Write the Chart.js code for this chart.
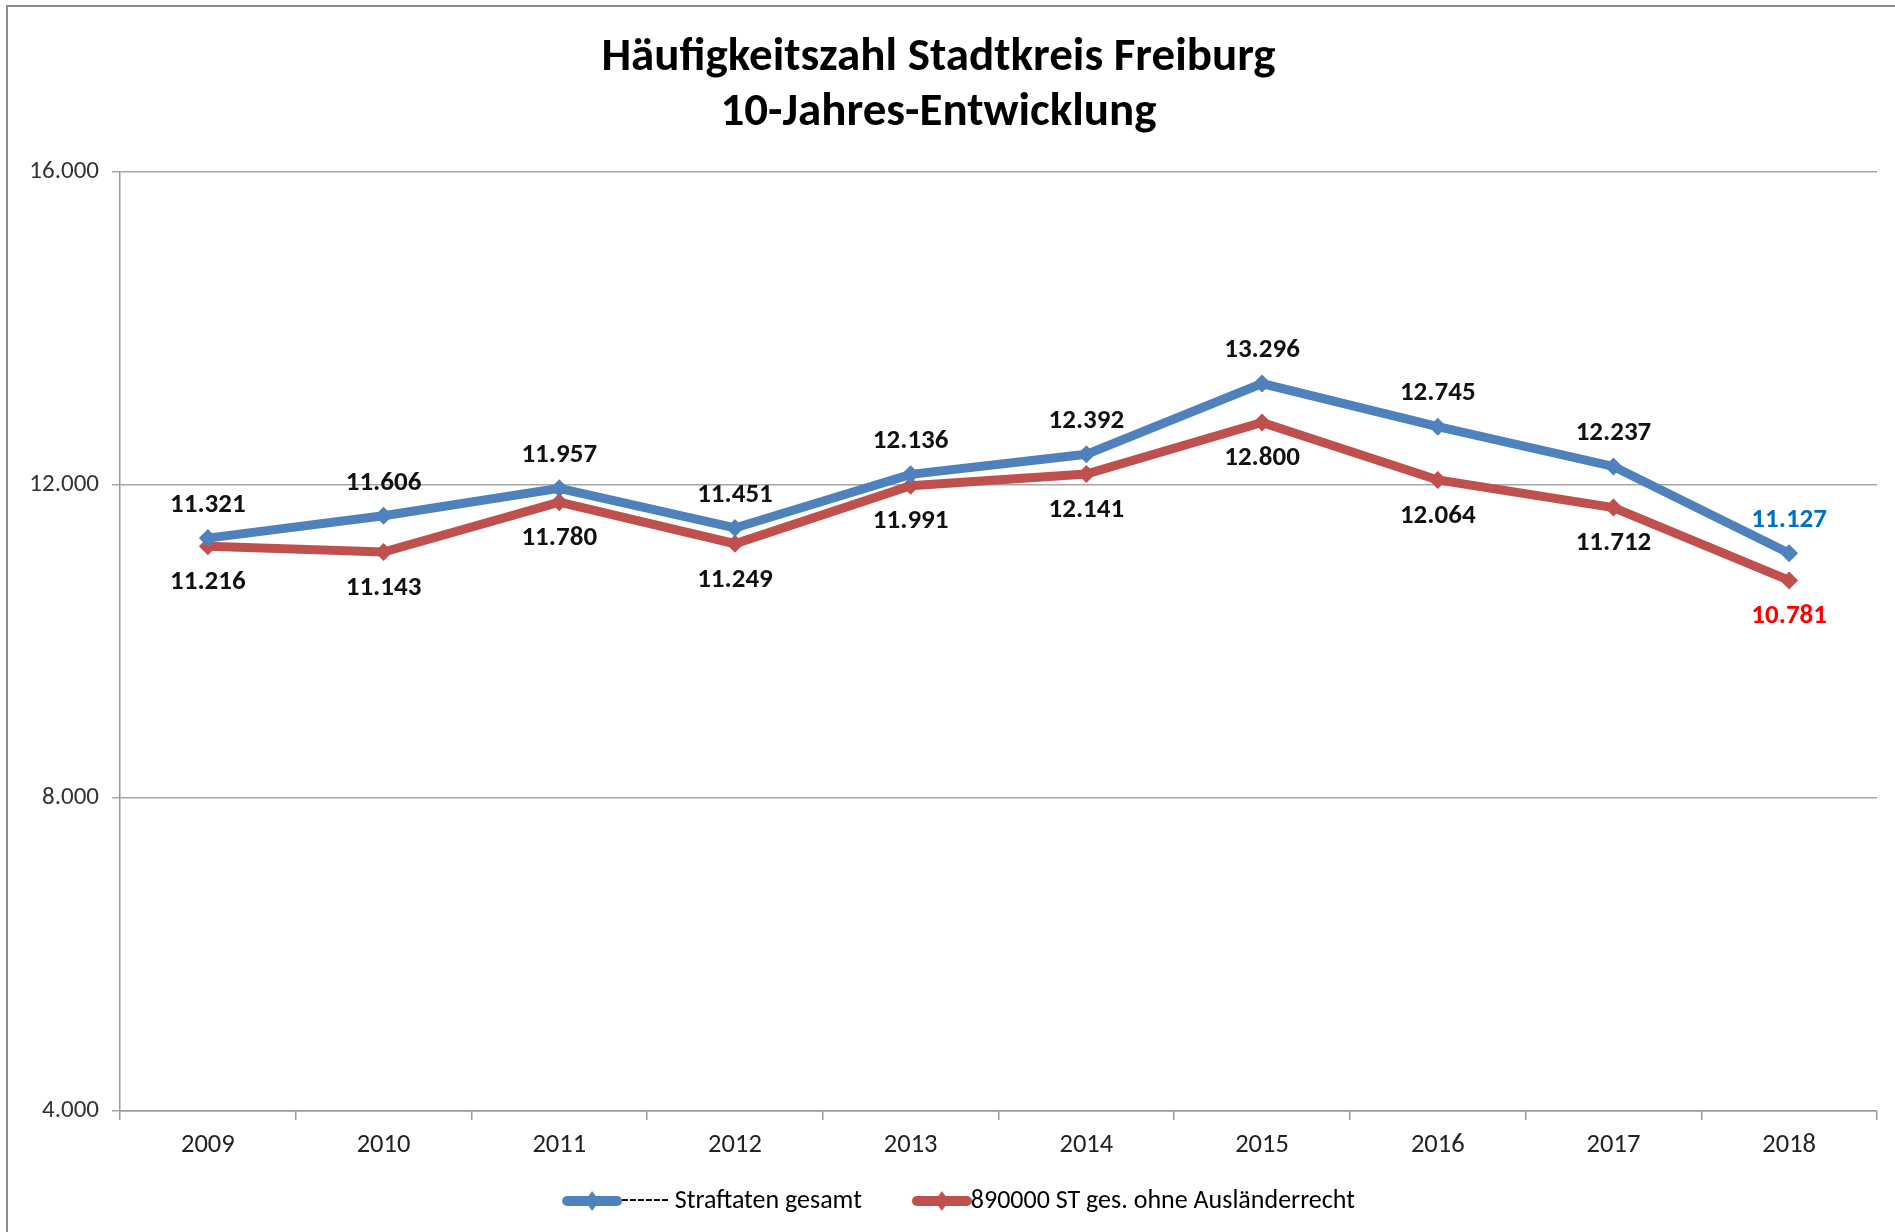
<!DOCTYPE html>
<html>
<head>
<meta charset="utf-8">
<script src="https://cdn.jsdelivr.net/npm/chart.js@4/dist/chart.umd.min.js"></script>
<style>
  body { margin: 0; background: #fff; }
  #wrap { position: relative; width: 1895px; height: 1232px; overflow: hidden; }
  #frame { position: absolute; left: 6px; top: 5px; width: 2000px; height: 2000px;
           border-left: 2px solid #8c8c8c; border-top: 2px solid #8c8c8c; }
  canvas { position: absolute; left: 0; top: 0; }
</style>
</head>
<body>
<div id="wrap">
  <div id="frame"></div>
  <canvas id="chart" width="1895" height="1232"></canvas>
</div>
<script>
// Daten
var years = ["2009","2010","2011","2012","2013","2014","2015","2016","2017","2018"];
var gesamt = [11321, 11606, 11957, 11451, 12136, 12392, 13296, 12745, 12237, 11127];
var ohneAuslR = [11216, 11143, 11780, 11249, 11991, 12141, 12800, 12064, 11712, 10781];
var yTicks = [4000, 8000, 12000, 16000];
var seriesNames = ["------ Straftaten gesamt", "890000 ST ges. ohne Ausländerrecht"];

var BLUE = "#4f81bd";
var RED = "#c0504d";
var FONT = "Carlito, Lato, 'Open Sans', sans-serif";

function fmt(v) {
	return String(v).replace(/\B(?=(\d{3})+(?!\d))/g, ".");
}

// Bild fuer den Legendeneintrag: dicke Linie mit Raute,
// sitzt am rechten Ende der 86px breiten Legendenbox
function legendSymbol(color) {
	var c = document.createElement("canvas");
	c.width = 120; c.height = 26;
	var g = c.getContext("2d");
	g.strokeStyle = color;
	g.lineWidth = 10;
	g.lineCap = "round";
	g.beginPath(); g.moveTo(62, 13); g.lineTo(112, 13); g.stroke();
	g.fillStyle = color;
	g.beginPath(); g.moveTo(87, 3); g.lineTo(94, 13); g.lineTo(87, 23); g.lineTo(80, 13); g.closePath(); g.fill();
	return c;
}
var symbols = [legendSymbol(BLUE), legendSymbol(RED)];

// Datenbeschriftungen (blau oben, rot unten)
var valueLabels = {
	id: "valueLabels",
	afterDatasetsDraw: function(chart) {
		var ctx = chart.ctx;
		ctx.save();
		ctx.font = "bold 27px " + FONT;
		ctx.textAlign = "center";
		ctx.textBaseline = "middle";
		chart.data.datasets.forEach(function(ds, di) {
			var meta = chart.getDatasetMeta(di);
			meta.data.forEach(function(pt, i) {
				var last = i === ds.data.length - 1;
				if (di === 0) {
					ctx.fillStyle = last ? "#0070c0" : "#111";
					ctx.fillText(fmt(ds.data[i]), pt.x, pt.y - 33);
				} else {
					ctx.fillStyle = last ? "#ff0000" : "#111";
					ctx.fillText(fmt(ds.data[i]), pt.x, pt.y + 36);
				}
			});
		});
		ctx.restore();
	}
};

var ctx = document.getElementById("chart").getContext("2d");
var chart = new Chart(ctx, {
	type: "line",
	data: {
		labels: years,
		datasets: [
			{ label: seriesNames[0], data: gesamt, borderColor: BLUE, backgroundColor: BLUE,
			  borderWidth: 9, pointStyle: "rectRot", pointRadius: 9, pointBackgroundColor: BLUE,
			  pointBorderWidth: 0, tension: 0 },
			{ label: seriesNames[1], data: ohneAuslR, borderColor: RED, backgroundColor: RED,
			  borderWidth: 9, pointStyle: "rectRot", pointRadius: 9, pointBackgroundColor: RED,
			  pointBorderWidth: 0, tension: 0 }
		]
	},
	options: {
		responsive: false,
		animation: false,
		layout: { padding: { left: 0, right: 18, top: 0, bottom: 8 } },
		plugins: {
			title: {
				display: true,
				text: ["Häufigkeitszahl Stadtkreis Freiburg", "10-Jahres-Entwicklung"],
				color: "#000",
				font: { family: FONT, size: 47, weight: "bold", lineHeight: 1.17 },
				padding: { top: 31, bottom: 31 }
			},
			legend: {
				position: "bottom",
				labels: {
					usePointStyle: true,
					pointStyleWidth: 86,
					padding: 10,
					color: "#222",
					font: { family: FONT, size: 26 },
					generateLabels: function(ch) {
						return ch.data.datasets.map(function(ds, i) {
							return { text: ds.label, pointStyle: symbols[i], fillStyle: ds.borderColor,
							         strokeStyle: ds.borderColor, lineWidth: 0, datasetIndex: i, hidden: false };
						});
					}
				}
			},
			tooltip: { enabled: false }
		},
		scales: {
			x: {
				offset: true,
				afterFit: function(s) { s.height = 67; },
				grid: { offset: true, drawOnChartArea: false, drawTicks: true, tickLength: 9, color: "#9a9a9a", lineWidth: 1.5 },
				border: { color: "#9a9a9a", width: 1.5 },
				ticks: { color: "#222", font: { family: FONT, size: 26.5 }, padding: 9 }
			},
			y: {
				min: 4000, max: 16000,
				afterFit: function(s) { s.width = 120; },
				afterBuildTicks: function(s) { s.ticks = yTicks.map(function(v) { return { value: v }; }); },
				grid: { color: "#a6a6a6", lineWidth: 1.5, drawTicks: true, tickLength: 8 },
				border: { color: "#9a9a9a", width: 1.5 },
				ticks: { color: "#333", font: { family: FONT, size: 25 }, padding: 13,
				         callback: function(v) { return fmt(v); } }
			}
		}
	},
	plugins: [valueLabels]
});
</script>
</body>
</html>
